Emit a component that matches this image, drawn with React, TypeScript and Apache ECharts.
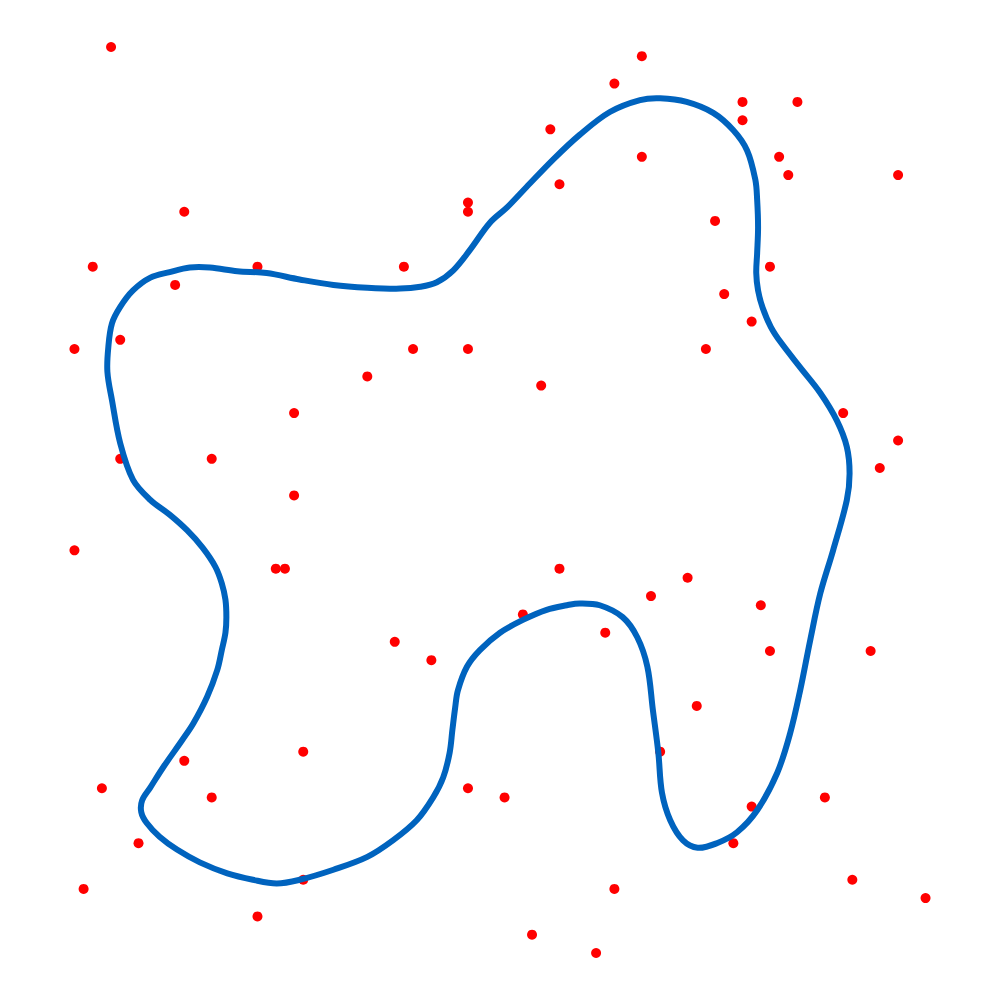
import React, { useEffect, useRef } from "react";
import * as echarts from "echarts";

// Red sample points (integer grid coordinates)
const pointsX = [7, 15, 5, 23, 39, 46, 46, 14, 8, 3, 40, 46, 35, 27, 8, 18, 27, 65, 62, 76, 82, 76, 55, 65, 80, 81, 93, 56, 73, 79, 74, 77, 72, 54, 87, 93, 91, 3, 25, 26, 38, 42, 28, 15, 6, 18, 46, 10, 28, 4, 23, 56, 70, 66, 78, 52, 61, 79, 90, 71, 67, 50, 85, 77, 75, 88, 96, 62, 53, 60];
const pointsY = [99, 81, 75, 75, 75, 82, 81, 73, 67, 66, 66, 66, 63, 59, 54, 54, 50, 98, 95, 93, 93, 91, 90, 87, 87, 85, 85, 84, 80, 75, 72, 69, 66, 62, 59, 56, 53, 44, 42, 42, 34, 32, 22, 21, 18, 17, 18, 12, 8, 7, 4, 42, 41, 39, 38, 37, 35, 33, 33, 27, 22, 17, 17, 16, 12, 8, 6, 7, 2, 0];

// Closed boundary curve, read around clockwise (closed shape, first point not repeated)
const curveX = [50.3, 52.4, 55.3, 58.2, 61.5, 64.8, 67.0, 69.9, 72.8, 75.0, 76.5, 77.4, 77.6, 77.7, 77.6, 77.5, 77.7, 78.2, 79.1, 80.2, 82.3, 84.5, 86.3, 87.4, 87.7, 87.4, 85.9, 84.5, 83.4, 82.3, 81.2, 79.8, 77.6, 75.4, 73.2, 71.1, 69.5, 68.1, 67.2, 66.8, 66.2, 65.6, 64.5, 62.9, 60.4, 58.2, 56.8, 54.6, 52.0, 49.5, 47.3, 45.9, 44.9, 44.6, 44.3, 44.0, 43.3, 42.2, 40.4, 37.8, 35.0, 31.3, 27.6, 25.1, 22.5, 19.7, 16.7, 14.2, 12.3, 10.9, 10.3, 10.4, 11.3, 12.7, 14.8, 16.0, 17.5, 18.6, 19.1, 19.5, 19.6, 19.5, 19.1, 18.4, 17.0, 15.3, 13.4, 11.3, 9.4, 8.0, 7.1, 6.6, 6.7, 7.1, 8.0, 9.4, 11.3, 13.4, 15.6, 17.8, 20.8, 24.0, 27.6, 31.3, 35.0, 38.6, 40.8, 42.6, 44.4, 46.2, 48.4];
const curveY = [81.5, 83.7, 86.7, 89.4, 91.9, 93.2, 93.4, 93.0, 91.8, 89.9, 87.7, 84.5, 82.3, 79.3, 76.5, 74.3, 72.4, 70.5, 68.4, 66.7, 64.0, 61.2, 58.2, 55.3, 52.4, 49.5, 44.0, 39.3, 34.2, 28.7, 24.0, 19.7, 15.6, 13.2, 12.0, 11.5, 12.3, 14.5, 17.5, 21.9, 26.6, 31.3, 34.5, 36.7, 38.0, 38.2, 38.0, 37.5, 36.4, 35.0, 33.1, 31.3, 28.7, 26.8, 24.4, 21.9, 19.2, 17.0, 14.5, 12.3, 10.5, 9.1, 8.0, 7.6, 8.0, 8.7, 9.9, 11.3, 12.7, 14.2, 15.4, 16.7, 18.1, 20.3, 23.3, 25.1, 28.0, 30.9, 33.1, 35.0, 36.7, 38.6, 40.4, 42.2, 44.3, 46.2, 47.9, 49.5, 51.7, 55.7, 60.4, 63.5, 66.2, 68.8, 70.6, 72.4, 73.8, 74.4, 74.9, 74.9, 74.5, 74.3, 73.6, 73.0, 72.7, 72.6, 72.8, 73.3, 74.6, 76.8, 79.8];

export default function App() {
  const ref = useRef<HTMLDivElement>(null);
  useEffect(() => {
    if (!ref.current) return;
    const chart = echarts.init(ref.current, null, { renderer: "svg" });
    const pts = pointsX.map((x, i) => [x, pointsY[i]]);
    const curve = curveX.map((x, i) => [x, curveY[i]]);
    chart.setOption({
      animation: false,
      backgroundColor: "#ffffff",
      grid: { left: 47, right: 47, top: 47, bottom: 47 },
      xAxis: { type: "value", min: 0, max: 99, show: false },
      yAxis: { type: "value", min: 0, max: 99, show: false },
      series: [
        {
          type: "scatter",
          data: pts,
          symbol: "circle",
          symbolSize: 10,
          itemStyle: { color: "#ff0000", opacity: 1 },
          z: 1,
        },
        {
          type: "custom",
          data: curve,
          encode: { x: 0, y: 1 },
          z: 2,
          renderItem: (params: any, api: any) => {
            if (params.dataIndex !== 0) return null;
            const p = curve.map((c) => api.coord(c));
            return {
              type: "polygon",
              shape: { points: p, smooth: 0.35 },
              style: { fill: "none", stroke: "#0063be", lineWidth: 6, lineJoin: "round" },
            };
          },
        },
      ],
    });
    return () => chart.dispose();
  }, []);
  return (
    <div
      ref={ref}
      style={{ position: "fixed", left: 0, top: 0, width: 1000, height: 1000 }}
    />
  );
}
